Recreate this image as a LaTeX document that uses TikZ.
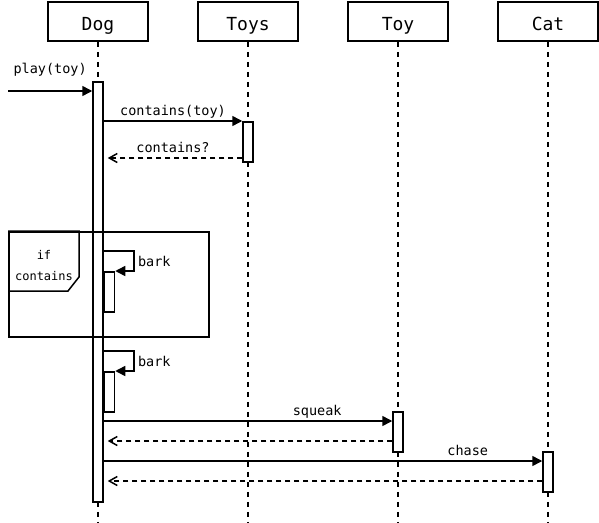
\documentclass[tikz,border=0pt]{standalone}
\usepackage{fontspec}
\setmonofont{DejaVu Sans Mono}
\usetikzlibrary{positioning,calc,arrows.meta}

\begin{document}
\begin{tikzpicture}[x=1pt,y=-1pt,
      thread/.style = {draw, line width=1.5pt, minimum width=100pt,
         minimum height=39pt, inner sep=0pt, text height=17pt, text depth=0pt,
         font=\ttfamily\fontsize{18}{18}\selectfont},
      lifeline/.style = {line width=1.5pt, dash pattern=on 5pt off 5pt},
      activity/.style = {draw, fill=white, line width=1.5pt,
         minimum width=10pt, inner sep=0pt},
      call/.style = {line width=1.5pt, -{Triangle[length=10pt,width=10pt]}},
      return/.style = {line width=1.5pt, dash pattern=on 5pt off 4pt,
         shorten >=4pt, -{Straight Barb[length=8pt,width=9pt]}},
      msg/.style = {font=\ttfamily\fontsize{13.5}{13.5}\selectfont,
         inner sep=1.5pt, text depth=3.2pt},
      frametext/.style = {font=\ttfamily\fontsize{12}{12}\selectfont,
         inner sep=0pt},
      framebox/.style = {draw, line width=1.5pt, inner sep=0pt}]

   \useasboundingbox (0,0) rectangle (599,522);

   % threads
   \node[thread] (dog)  at (98,21.5)  {Dog};
   \node[thread] (toys) at (248,21.5) {Toys};
   \node[thread] (toy)  at (398,21.5) {Toy};
   \node[thread] (cat)  at (548,21.5) {Cat};

   % lifelines
   \foreach \t in {dog,toys,toy,cat}{
      \coordinate (\t end) at (\t.south |- 0,522);
      \draw[lifeline] (\t.south) -- (\t end);
   }

   % activations
   \node[activity, anchor=north, minimum height=420pt] (dogact)  at (98,81)   {};
   \node[activity, anchor=north, minimum height=40pt]  (toysact) at (248,121) {};
   \node[activity, anchor=north, minimum height=40pt]  (toyact)  at (398,411) {};
   \node[activity, anchor=north, minimum height=40pt]  (catact)  at (548,451) {};
   \node[activity, anchor=north west, minimum height=40pt] (bark1act)
      at (dogact.east |- 0,271) {};
   \node[activity, anchor=north west, minimum height=40pt] (bark2act)
      at (dogact.east |- 0,371) {};

   % incoming call
   \coordinate (start) at (8,91);
   \draw[call] (start) -- node[msg, above=12pt] {play(toy)} (dogact.west |- start);

   % dog asks toys
   \draw[call] (dogact.east |- toysact.north) --
      node[msg, above] {contains(toy)} (toysact.north west);
   \draw[return] (toysact.west |- 0,158) --
      node[msg, above] {contains?} (dogact.east |- 0,158);

   % if contains
   \node[framebox, anchor=north west, minimum width=200pt, minimum height=105pt]
      (ifframe) at (8,231) {};
   \draw[line width=1.5pt] (ifframe.north west) -- ++(71,0) -- ++(0,46)
      -- ++(-11,14) -- (ifframe.west |- 0,291);
   \node[frametext] (iflabel)   at (44,255) {if};
   \node[frametext] (condlabel) at (44,276) {contains};

   % barking
   \draw[call] (dogact.east |- 0,251) -- ++(30,0)
      |- node[msg, right=2pt, yshift=-2pt, pos=0.25] {bark} (bark1act.north east);
   \draw[call] (dogact.east |- 0,351) -- ++(30,0)
      |- node[msg, right=2pt, yshift=-2pt, pos=0.25] {bark} (bark2act.north east);

   % toy squeaks
   \draw[call] (dogact.east |- 0,421) --
      node[msg, above, pos=0.74] {squeak} (toyact.west |- 0,421);
   \draw[return] (toyact.west |- 0,441) -- (dogact.east |- 0,441);

   % cat chases
   \draw[call] (dogact.east |- 0,461) --
      node[msg, above, pos=0.83] {chase} (catact.west |- 0,461);
   \draw[return] (catact.west |- 0,481) -- (dogact.east |- 0,481);

\end{tikzpicture}
\end{document}
